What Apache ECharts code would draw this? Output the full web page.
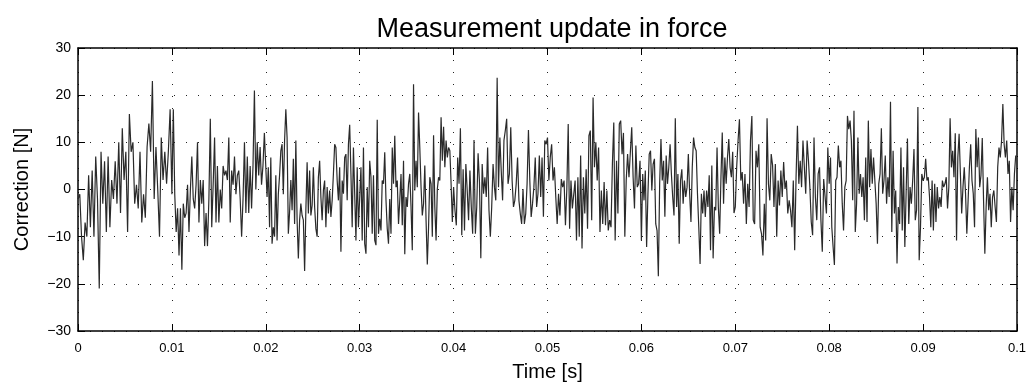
<!DOCTYPE html>
<html><head><meta charset="utf-8">
<script src="https://cdn.jsdelivr.net/npm/echarts@6/dist/echarts.min.js"></script>
<style>html,body{margin:0;padding:0;background:#fff}#c{width:1028px;height:385px}</style>
</head><body><div id="c"></div>
<script>
// Sampled correction values [N], one array per 0.01 s window
const seg0 = [-2, -1, -10, -15, -7, -10, 3, -8, 4, -10, 7, -2, -21, 8, -3, 6, -9, 7, -8, 2, -2, 6, -3, 10, -5, 13, 2, 8, -9, 16, 8, 10, -3, 1, -4, 8, -7, -1, -6, 9, 14, 8, 23, -2, 9, 0, -10, 11, 2, 8, 1.2, 8, 17];
const seg1 = [-1, 17, -1, -9, -4, -14, -4, -17, -3, -6, -5, 1, -9, 0, 7, -2, -4, 1, 10, -7, 2, -3, 2, -12, -5, -12, -2, 15, -8, 1, 11, -7, 5, -7, 0, -4, 5, 3, 4, 2, 11, -7, 4, 1, 7, -1, 3, 4, -2, -10, -2, 10, -5, 7, -5, 5, -4, 5, 21, 0, 10, 3, 9, 1, 5, 12];
const seg2 = [11.8, -1.6, 4.7, -8, 6.8, -11.5, -8, -10, 3, -10.8, -1, 3, 8.2, 9.6, -1, 10.4, 17, 11, -9.4, -4.8, 2, -4.4, 6.5, -7.3, 10.4, -6.5, -14.6, -6.5, -3, -5.5, -6.5, -17.3, -4.4, 5.8, -5.1, 4, -5.5, -3.4, 4.7, -3.7, -8.3, -10, 2.6, 6.1, -1.6, -6.5, -0.2, 1.9, -8, 0.5, -5.1, -0.2, -5.8, -2.3, 3.3, 9.6, 8.9, 1.9, -2.3, 4.7, -13.2, 1.9, -0.9, 6.8, 7.5, -2.3, 9.6, 13.7, 3.3, -8, 8.9, -0.9, -10.8, 4.7, -8];
const seg3 = [-8, 4.7, -10.8, 8.9, -11.5, -13.6, 0.5, -8, 6.1, 2.6, -9.4, 3, -10.8, -11.8, 14.8, -9.4, -6.2, -8.7, 1.9, 1.2, 7.9, -2.3, -8.3, -11.5, -2, -9.4, 8.9, 1.2, 11.4, 0.5, 1.9, -7.3, -2.3, 3.3, -7.6, 6.1, -13.7, -1.6, -3.7, 1.2, 3.3, -3.7, -12.9, 22.3, -0.2, 6.1, 0.5, 16.3, 8.9, 0.5, -5.5, -3, 5.1, -6.5, -15.9, -8, 2.6, 1.2, -10, 11.5, -3.7, -10.8, 0.1, 2.6, 1.9, 15.3, 6.1, 13.3, 4.7, 10.4, 6.8, 8.9, 8.2, 1.2, -6.9];
const seg4 = [0.5, -4.4, -7.6, 6.8, 1.2, 13, -9.7, 4.3, -8.7, 5.4, -0.2, -6.5, 4, -3.7, -9.4, 10.5, -9.4, -3.7, 7.7, 1.6, -14.6, 5.4, -0.9, 2.6, -1.6, 8.9, -4.4, -10, -3.7, 5.4, 0.5, -2.3, 23.7, 0.5, 11, 4, -2.3, 10.4, 12.5, 15, 1.2, 3.3, 13.2, 1.9, -3.7, -2.3, 1.2, 6.8, -2.3, -5.1, -7.3, 0.1, -7.3, -5.1, 1.2, 12.6, 1.9, -5.8, -3, 0.5, 6.8, -3.7, -0.9, 7.2, -1.6, 6.8, -5.8, 10.4, 9.6];
const seg5 = [11, 1.9, 6.8, 9.6, 1.9, 4.7, -1.6, -7.3, -0.9, -5.5, 2.2, 0.5, 1.9, -7.6, 0.1, 13.9, -8.3, 1.9, -4, -4.4, 1.9, -10.8, 2.6, -10, 7.2, -12.5, 2.6, -5.1, 4.3, -8.3, 11.4, 12.5, -6.5, 19.5, 4.7, 10, 1.9, 8.9, -9, -0.2, -7.3, 1.6, -7.6, -0.2, -8.7, -6.5, -8, 5.4, 14.2, -10.8, 6.1, -5.1, 13.9, 14.6, 7.5, 12, -10, 1.9, 7.5, 2.6, 2.6, 13.2, 2.6, -4, 9.3, 0.5, 1.2, 6.1];
const seg6 = [-10.8, 3.3, -2.3, 4, -12.2, -1, 7.5, 8.2, -0.2, 5.4, 6.5, -7.3, -8.7, -18.4, 1.2, 10.7, 1.9, 6.1, -5.8, 7.2, 1.2, 4.7, 9.6, 3.3, -1.6, -5.5, 15.1, -3.7, 3.3, -11.5, 1.9, 4.3, -3, 1.9, -1.6, 0.5, 7.5, -0.9, -6.9, 4.7, 11, 8.9, 8.2, -0.9, -8, -15.8, -0.9, -5.1, -0.2, -5.8, -0.2, -3.7, 3, -12.9, 5.1, -14.6, -3.7, -4.4, 8.9, -3.7, -9.4, 2.6, 12.1, -3, 6.8, 1.2, 6.8, 10.7, 4.7, 2.6, 8, -5];
const seg7 = [-3.7, 4.7, 10.4, 14.9, 1.9, 3.7, -3, 3.3, -7.3, 1.2, -3.7, 10.4, 15.6, -6.5, -7.3, 8.2, 4.7, 9.6, -8, -9.4, -14, -3, -10.8, 15.1, 1.2, -2.3, 7.5, 5.1, -3.7, 5.4, -10, 1.9, -3.4, 4, -1.6, 5.8, 0.1, 1.9, -5.1, -2.3, -4.4, -8, 1.9, -12.9, 2.6, 13.5, 1.2, 6.1, 0.5, 10.4, 4.7, -0.9, 10.4, 6.1, 0.5, -6.9, -9.7, 11, -1.6, -6.5, 3.3, 4.7, -6.5, -13.2, 2.2, 2.6, -5.1, 8.9];
const seg8 = [1.2, 6.8, -8, -12.2, -16, 1.9, 2.6, 9.3, 4.7, 6.1, -3, -8.7, 0.5, 1.9, 15.6, 12.8, 14.6, 10.4, -2.3, 16.7, -9, -3, 11, -0.9, 3.3, -1.6, 2.6, -6.5, 6.8, -6.9, 14.6, 0.5, 8.6, 1.2, 6.8, 1.9, -3, -11.5, 1.2, 3.3, 13, -0.9, 1.9, 7.2, -3, 2.6, -1.6, 18.6, -9, 8.2, -5.1, -0.2, -15.7, -3.7, -7.3, 8.9, -8.7, 4.7, -12.2, -0.6, 10.8, -7.3, 0.5, -3, 1.9, 8.6, -6.5, -4.4, 17.5, -15, -8, 3.3];
const seg9 = [1.9, 2.6, 6.5, 1.9, 2.6, -1.6, -8, 1.9, -8.7, 1.2, -6.9, 0.5, -4, -1.6, -3.7, 1.9, 0.5, 1.2, 2.6, -4, 0.5, 15.1, 4.7, 8.2, 2.6, 11.9, -10.8, 6.8, 11.8, 3.3, -5.1, 0.5, 4.7, -0.9, -9.4, -2.3, 4.7, 9.6, 1.9, -0.9, -8, 12.8, 4.7, 11, 0.5, 3, 10.9, -2.3, -13.6, -3.7, 2.6, -4.4, -0.9, -8, -1.6, -0.2, -3.7, -6.9, 4.7, 8.9, 6.8, 10.4, 18.1, 9.6, 6.8, 10.4, 3.3, 6.1, -6.9, 0.5, -4.4, 3.3, 7.2];
const segments = [seg0, seg1, seg2, seg3, seg4, seg5, seg6, seg7, seg8, seg9];
const windowLength = 0.01; // s per segment
const xTicks = [0, 0.01, 0.02, 0.03, 0.04, 0.05, 0.06, 0.07, 0.08, 0.09, 0.1];
const yTicks = [-30, -20, -10, 0, 10, 20, 30];

const data = [];
segments.forEach((seg, k) => {
  seg.forEach((v, i) => data.push([k * windowLength + windowLength * i / seg.length, v]));
});

const FONT = '"Liberation Sans", Arial, Helvetica, sans-serif';
const grid = {type: [1, 11], color: '#222', width: 1};
const line = {show: true, onZero: false, lineStyle: {color: '#000', width: 1.5}};
const tick = {show: true, inside: true, length: 7, lineStyle: {color: '#000', width: 1}};
const chart = echarts.init(document.getElementById('c'), null, {renderer: 'canvas'});
chart.setOption({
  animation: false,
  backgroundColor: '#fff',
  title: {text: 'Measurement update in force', left: 547, textAlign: 'center', top: 11,
    textStyle: {fontFamily: FONT, fontSize: 27, fontWeight: 'normal', color: '#000'}},
  grid: {left: 78, right: 11, top: 48, bottom: 54, containLabel: false, outerBoundsMode: 'none'},
  xAxis: [{
    type: 'value', min: xTicks[0], max: xTicks[xTicks.length - 1], interval: 0.01,
    name: 'Time [s]', nameLocation: 'middle', nameGap: 31,
    nameTextStyle: {fontFamily: FONT, fontSize: 20, color: '#000'},
    axisLine: line, axisTick: tick,
    axisLabel: {fontFamily: FONT, fontSize: 13, color: '#000', margin: 11,
      formatter: v => String(+v.toFixed(2))},
    splitLine: {show: true, lineStyle: grid}
  }, {
    type: 'value', position: 'top', min: 0, max: 0.1, interval: 0.01,
    axisLine: line, axisTick: tick,
    axisLabel: {show: false}, splitLine: {show: false}
  }],
  yAxis: [{
    type: 'value', min: yTicks[0], max: yTicks[yTicks.length - 1], interval: 10,
    name: 'Correction [N]', nameLocation: 'middle', nameGap: 46,
    nameTextStyle: {fontFamily: FONT, fontSize: 20, color: '#000'},
    axisLine: line, axisTick: tick,
    axisLabel: {fontFamily: FONT, fontSize: 14, color: '#000', margin: 7,
      formatter: v => v < 0 ? '\u2212' + (-v) : String(v)},
    splitLine: {show: true, lineStyle: grid}
  }, {
    type: 'value', position: 'right', min: -30, max: 30, interval: 10,
    axisLine: line, axisTick: tick,
    axisLabel: {show: false}, splitLine: {show: false}
  }],
  series: [{
    type: 'line', data: data, xAxisIndex: 0, yAxisIndex: 0,
    showSymbol: false, symbol: 'none',
    lineStyle: {color: '#2a2a2a', width: 1.2}
  }]
});
</script></body></html>
